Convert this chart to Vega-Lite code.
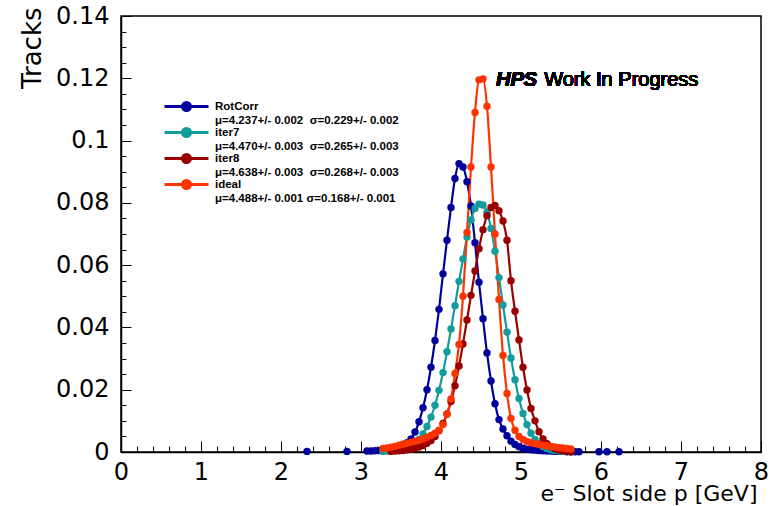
{
  "$schema": "https://vega.github.io/schema/vega-lite/v6.json",
  "width": 640,
  "height": 436,
  "autosize": {"type": "none"},
  "padding": {"left": 121, "top": 16, "right": 16, "bottom": 54},
  "background": "white",
  "config": {
    "view": {"stroke": "black", "strokeWidth": 1.5},
    "axis": {"grid": false, "zindex": 1},
    "style": {"guide-label": {"lineHeight": 14}}
  },
  "resolve": {"axis": {"x": "independent", "y": "independent"}},
  "data": {"values": [
    {"series":"RotCorr","p":2.325,"frac":0.0002},{"series":"RotCorr","p":2.825,"frac":0.0002},{"series":"RotCorr","p":3.075,"frac":0.0003},{"series":"RotCorr","p":3.125,"frac":0.0003},{"series":"RotCorr","p":3.175,"frac":0.0004},{"series":"RotCorr","p":3.225,"frac":0.0005},{"series":"RotCorr","p":3.275,"frac":0.0007},{"series":"RotCorr","p":3.325,"frac":0.0009},{"series":"RotCorr","p":3.375,"frac":0.0012},{"series":"RotCorr","p":3.425,"frac":0.0015},{"series":"RotCorr","p":3.475,"frac":0.0019},{"series":"RotCorr","p":3.525,"frac":0.0024},{"series":"RotCorr","p":3.575,"frac":0.0030},{"series":"RotCorr","p":3.625,"frac":0.0042},{"series":"RotCorr","p":3.675,"frac":0.0064},{"series":"RotCorr","p":3.725,"frac":0.0097},{"series":"RotCorr","p":3.775,"frac":0.0142},{"series":"RotCorr","p":3.825,"frac":0.0200},{"series":"RotCorr","p":3.875,"frac":0.0272},{"series":"RotCorr","p":3.925,"frac":0.0358},{"series":"RotCorr","p":3.975,"frac":0.0458},{"series":"RotCorr","p":4.025,"frac":0.0572},{"series":"RotCorr","p":4.075,"frac":0.0680},{"series":"RotCorr","p":4.125,"frac":0.0785},{"series":"RotCorr","p":4.175,"frac":0.0878},{"series":"RotCorr","p":4.225,"frac":0.0926},{"series":"RotCorr","p":4.275,"frac":0.0915},{"series":"RotCorr","p":4.325,"frac":0.0868},{"series":"RotCorr","p":4.375,"frac":0.0790},{"series":"RotCorr","p":4.425,"frac":0.0672},{"series":"RotCorr","p":4.475,"frac":0.0545},{"series":"RotCorr","p":4.525,"frac":0.0428},{"series":"RotCorr","p":4.575,"frac":0.0318},{"series":"RotCorr","p":4.625,"frac":0.0228},{"series":"RotCorr","p":4.675,"frac":0.0155},{"series":"RotCorr","p":4.725,"frac":0.0104},{"series":"RotCorr","p":4.775,"frac":0.0074},{"series":"RotCorr","p":4.825,"frac":0.0052},{"series":"RotCorr","p":4.875,"frac":0.0035},{"series":"RotCorr","p":4.925,"frac":0.0024},{"series":"RotCorr","p":4.975,"frac":0.0017},{"series":"RotCorr","p":5.025,"frac":0.0012},{"series":"RotCorr","p":5.075,"frac":0.0009},{"series":"RotCorr","p":5.125,"frac":0.0007},{"series":"RotCorr","p":5.175,"frac":0.0006},{"series":"RotCorr","p":5.225,"frac":0.0005},{"series":"RotCorr","p":5.275,"frac":0.0004},{"series":"RotCorr","p":5.325,"frac":0.0003},{"series":"RotCorr","p":5.375,"frac":0.0003},{"series":"RotCorr","p":5.425,"frac":0.0002},{"series":"RotCorr","p":5.475,"frac":0.0002},{"series":"RotCorr","p":5.525,"frac":0.0002},{"series":"RotCorr","p":5.575,"frac":0.0001},{"series":"RotCorr","p":5.625,"frac":0.0001},{"series":"RotCorr","p":5.675,"frac":0.0001},{"series":"RotCorr","p":5.725,"frac":0.0001},{"series":"RotCorr","p":5.975,"frac":0.0001},{"series":"RotCorr","p":6.075,"frac":0.0001},{"series":"RotCorr","p":6.225,"frac":0.0001},
    {"series":"iter7","p":3.275,"frac":0.0002},{"series":"iter7","p":3.325,"frac":0.0003},{"series":"iter7","p":3.375,"frac":0.0004},{"series":"iter7","p":3.425,"frac":0.0005},{"series":"iter7","p":3.475,"frac":0.0007},{"series":"iter7","p":3.525,"frac":0.0009},{"series":"iter7","p":3.575,"frac":0.0012},{"series":"iter7","p":3.625,"frac":0.0018},{"series":"iter7","p":3.675,"frac":0.0027},{"series":"iter7","p":3.725,"frac":0.0040},{"series":"iter7","p":3.775,"frac":0.0058},{"series":"iter7","p":3.825,"frac":0.0082},{"series":"iter7","p":3.875,"frac":0.0112},{"series":"iter7","p":3.925,"frac":0.0150},{"series":"iter7","p":3.975,"frac":0.0198},{"series":"iter7","p":4.025,"frac":0.0255},{"series":"iter7","p":4.075,"frac":0.0322},{"series":"iter7","p":4.125,"frac":0.0395},{"series":"iter7","p":4.175,"frac":0.0470},{"series":"iter7","p":4.225,"frac":0.0548},{"series":"iter7","p":4.275,"frac":0.0620},{"series":"iter7","p":4.325,"frac":0.0690},{"series":"iter7","p":4.375,"frac":0.0745},{"series":"iter7","p":4.425,"frac":0.0782},{"series":"iter7","p":4.475,"frac":0.0796},{"series":"iter7","p":4.525,"frac":0.0793},{"series":"iter7","p":4.575,"frac":0.0770},{"series":"iter7","p":4.625,"frac":0.0718},{"series":"iter7","p":4.675,"frac":0.0645},{"series":"iter7","p":4.725,"frac":0.0560},{"series":"iter7","p":4.775,"frac":0.0472},{"series":"iter7","p":4.825,"frac":0.0385},{"series":"iter7","p":4.875,"frac":0.0302},{"series":"iter7","p":4.925,"frac":0.0232},{"series":"iter7","p":4.975,"frac":0.0172},{"series":"iter7","p":5.025,"frac":0.0124},{"series":"iter7","p":5.075,"frac":0.0088},{"series":"iter7","p":5.125,"frac":0.0060},{"series":"iter7","p":5.175,"frac":0.0040},{"series":"iter7","p":5.225,"frac":0.0026},{"series":"iter7","p":5.275,"frac":0.0017},{"series":"iter7","p":5.325,"frac":0.0011},{"series":"iter7","p":5.375,"frac":0.0007},{"series":"iter7","p":5.425,"frac":0.0005},{"series":"iter7","p":5.475,"frac":0.0003},{"series":"iter7","p":5.525,"frac":0.0002},{"series":"iter7","p":5.575,"frac":0.0002},{"series":"iter7","p":5.625,"frac":0.0001},
    {"series":"iter8","p":3.375,"frac":0.0002},{"series":"iter8","p":3.425,"frac":0.0003},{"series":"iter8","p":3.475,"frac":0.0004},{"series":"iter8","p":3.525,"frac":0.0005},{"series":"iter8","p":3.575,"frac":0.0007},{"series":"iter8","p":3.625,"frac":0.0009},{"series":"iter8","p":3.675,"frac":0.0012},{"series":"iter8","p":3.725,"frac":0.0016},{"series":"iter8","p":3.775,"frac":0.0021},{"series":"iter8","p":3.825,"frac":0.0028},{"series":"iter8","p":3.875,"frac":0.0037},{"series":"iter8","p":3.925,"frac":0.0050},{"series":"iter8","p":3.975,"frac":0.0068},{"series":"iter8","p":4.025,"frac":0.0092},{"series":"iter8","p":4.075,"frac":0.0122},{"series":"iter8","p":4.125,"frac":0.0162},{"series":"iter8","p":4.175,"frac":0.0213},{"series":"iter8","p":4.225,"frac":0.0276},{"series":"iter8","p":4.275,"frac":0.0347},{"series":"iter8","p":4.325,"frac":0.0424},{"series":"iter8","p":4.375,"frac":0.0503},{"series":"iter8","p":4.425,"frac":0.0581},{"series":"iter8","p":4.475,"frac":0.0653},{"series":"iter8","p":4.525,"frac":0.0714},{"series":"iter8","p":4.575,"frac":0.0759},{"series":"iter8","p":4.625,"frac":0.0785},{"series":"iter8","p":4.675,"frac":0.0792},{"series":"iter8","p":4.725,"frac":0.0775},{"series":"iter8","p":4.775,"frac":0.0742},{"series":"iter8","p":4.825,"frac":0.0680},{"series":"iter8","p":4.875,"frac":0.0550},{"series":"iter8","p":4.925,"frac":0.0452},{"series":"iter8","p":4.975,"frac":0.0360},{"series":"iter8","p":5.025,"frac":0.0272},{"series":"iter8","p":5.075,"frac":0.0199},{"series":"iter8","p":5.125,"frac":0.0140},{"series":"iter8","p":5.175,"frac":0.0100},{"series":"iter8","p":5.225,"frac":0.0065},{"series":"iter8","p":5.275,"frac":0.0042},{"series":"iter8","p":5.325,"frac":0.0027},{"series":"iter8","p":5.375,"frac":0.0017},{"series":"iter8","p":5.425,"frac":0.0010},{"series":"iter8","p":5.475,"frac":0.0006},{"series":"iter8","p":5.525,"frac":0.0004},{"series":"iter8","p":5.575,"frac":0.0002},{"series":"iter8","p":5.625,"frac":0.0001},
    {"series":"ideal","p":3.275,"frac":0.0011},{"series":"ideal","p":3.325,"frac":0.0013},{"series":"ideal","p":3.375,"frac":0.0015},{"series":"ideal","p":3.425,"frac":0.0018},{"series":"ideal","p":3.475,"frac":0.0022},{"series":"ideal","p":3.525,"frac":0.0025},{"series":"ideal","p":3.575,"frac":0.0028},{"series":"ideal","p":3.625,"frac":0.0031},{"series":"ideal","p":3.675,"frac":0.0034},{"series":"ideal","p":3.725,"frac":0.0038},{"series":"ideal","p":3.775,"frac":0.0042},{"series":"ideal","p":3.825,"frac":0.0047},{"series":"ideal","p":3.875,"frac":0.0053},{"series":"ideal","p":3.925,"frac":0.0060},{"series":"ideal","p":3.975,"frac":0.0070},{"series":"ideal","p":4.025,"frac":0.0088},{"series":"ideal","p":4.075,"frac":0.0122},{"series":"ideal","p":4.125,"frac":0.0170},{"series":"ideal","p":4.175,"frac":0.0252},{"series":"ideal","p":4.225,"frac":0.0345},{"series":"ideal","p":4.275,"frac":0.0500},{"series":"ideal","p":4.325,"frac":0.0705},{"series":"ideal","p":4.375,"frac":0.0915},{"series":"ideal","p":4.425,"frac":0.1090},{"series":"ideal","p":4.475,"frac":0.1195},{"series":"ideal","p":4.525,"frac":0.1198},{"series":"ideal","p":4.575,"frac":0.1110},{"series":"ideal","p":4.625,"frac":0.0915},{"series":"ideal","p":4.675,"frac":0.0700},{"series":"ideal","p":4.725,"frac":0.0490},{"series":"ideal","p":4.775,"frac":0.0310},{"series":"ideal","p":4.825,"frac":0.0188},{"series":"ideal","p":4.875,"frac":0.0108},{"series":"ideal","p":4.925,"frac":0.0070},{"series":"ideal","p":4.975,"frac":0.0050},{"series":"ideal","p":5.025,"frac":0.0040},{"series":"ideal","p":5.075,"frac":0.0034},{"series":"ideal","p":5.125,"frac":0.0030},{"series":"ideal","p":5.175,"frac":0.0027},{"series":"ideal","p":5.225,"frac":0.0024},{"series":"ideal","p":5.275,"frac":0.0022},{"series":"ideal","p":5.325,"frac":0.0020},{"series":"ideal","p":5.375,"frac":0.0018},{"series":"ideal","p":5.425,"frac":0.0016},{"series":"ideal","p":5.475,"frac":0.0014},{"series":"ideal","p":5.525,"frac":0.0013},{"series":"ideal","p":5.575,"frac":0.0011},{"series":"ideal","p":5.625,"frac":0.0010}
  ]},
  "layer": [
    {
      "transform": [{"filter": "datum.frac >= 0.0005"}],
      "mark": {"type": "line", "strokeWidth": 2.2, "interpolate": "monotone"},
      "encoding": {
        "x": {"field": "p", "type": "quantitative",
          "scale": {"domain": [0, 8], "nice": false, "zero": false},
          "axis": {
            "orient": "bottom",
            "values": [0,1,2,3,4,5,6,7,8],
            "format": "d",
            "ticks": false,
            "domainColor": "black", "domainWidth": 1.5,
            "labelFont": "DejaVu Sans", "labelFontSize": 24, "labelColor": "black",
            "labelPadding": 8, "labelOverlap": false, "labelFlush": false,
            "title": "e\u207b Slot side p [GeV]",
            "titleFont": "DejaVu Sans", "titleFontSize": 22, "titleFontWeight": "normal", "titleColor": "black",
            "titleAnchor": "end", "titleAlign": "right", "titleBaseline": "alphabetic",
            "titleX": 636, "titleY": 48
          }},
        "y": {"field": "frac", "type": "quantitative",
          "scale": {"domain": [0, 0.14], "nice": false, "zero": false},
          "axis": {
            "orient": "left",
            "values": [0,0.02,0.04,0.06,0.08,0.1,0.12,0.14],
            "format": "~g",
            "ticks": false,
            "domainColor": "black", "domainWidth": 1.5,
            "labelFont": "DejaVu Sans", "labelFontSize": 24, "labelColor": "black",
            "labelPadding": 12, "labelOverlap": false, "labelFlush": false,
            "title": "Tracks",
            "titleFont": "DejaVu Sans", "titleFontSize": 26, "titleFontWeight": "normal", "titleColor": "black",
            "titleAnchor": "end", "titleAlign": "right", "titleBaseline": "middle", "titleAngle": -90,
            "titleX": -89, "titleY": -9
          }},
        "color": {"field": "series", "type": "nominal",
          "scale": {"domain": ["RotCorr", "iter7", "iter8", "ideal"], "range": ["#00009a", "#129c9c", "#990000", "#ff3300"]},
          "legend": {
            "title": null, "orient": "none", "legendX": 59, "legendY": 84,
            "padding": 0,
            "symbolType": "M-4.4,0H4.4M-0.8,0A0.8,0.8,0,1,1,0.8,0A0.8,0.8,0,1,1,-0.8,0Z",
            "symbolSize": 100, "symbolStrokeWidth": 3,
            "labelOffset": 22, "rowPadding": -13,
            "labelFont": "Liberation Sans", "labelFontSize": 11.5, "labelFontWeight": "bold", "labelColor": "black",
            "labelLimit": 400,
            "labelExpr": "datum.label == 'RotCorr' ? ['RotCorr', '\u00a0\u00a0\u03bc=4.237+/- 0.002\u00a0\u00a0\u03c3=0.229+/- 0.002'] : datum.label == 'iter7' ? ['iter7', '\u00a0\u00a0\u03bc=4.470+/- 0.003\u00a0\u00a0\u03c3=0.265+/- 0.003'] : datum.label == 'iter8' ? ['iter8', '\u00a0\u00a0\u03bc=4.638+/- 0.003\u00a0\u00a0\u03c3=0.268+/- 0.003'] : ['ideal', '\u00a0\u00a0\u03bc=4.488+/- 0.001 \u03c3=0.168+/- 0.001']"
          }}
      }
    },
    {
      "mark": {"type": "point", "filled": true, "size": 55, "opacity": 1, "strokeWidth": 0},
      "encoding": {
        "x": {"field": "p", "type": "quantitative",
          "axis": {"orient": "top", "offset": -436, "values": [0,1,2,3,4,5,6,7,8], "labels": false, "domain": false, "title": null,
                   "ticks": true, "tickSize": 11, "tickColor": "black", "tickWidth": 1}},
        "y": {"field": "frac", "type": "quantitative",
          "axis": {"orient": "left", "offset": {"expr": "-10"}, "values": [0,0.02,0.04,0.06,0.08,0.1,0.12,0.14], "labels": false, "domain": false, "title": null,
                   "ticks": true, "tickSize": 10, "tickColor": "black", "tickWidth": 1}},
        "color": {"field": "series", "type": "nominal"}
      }
    },
    {
      "mark": {"type": "text", "text": "HPS", "font": "Liberation Sans", "fontSize": 20, "fontWeight": "bold", "fontStyle": "italic", "align": "left", "baseline": "middle", "color": "black"},
      "encoding": {
        "x": {"datum": 4.6875, "type": "quantitative",
          "axis": {"orient": "top", "offset": -436, "values": [0.2,0.4,0.6,0.8,1.2,1.4,1.6,1.8,2.2,2.4,2.6,2.8,3.2,3.4,3.6,3.8,4.2,4.4,4.6,4.8,5.2,5.4,5.6,5.8,6.2,6.4,6.6,6.8,7.2,7.4,7.6,7.8], "labels": false, "domain": false, "title": null,
                   "ticks": true, "tickSize": 6, "tickColor": "black", "tickWidth": 1}},
        "y": {"datum": 0.1195, "type": "quantitative",
          "axis": {"orient": "left", "offset": {"expr": "-5"}, "values": [0.005,0.01,0.015,0.025,0.03,0.035,0.045,0.05,0.055,0.065,0.07,0.075,0.085,0.09,0.095,0.105,0.11,0.115,0.125,0.13,0.135], "labels": false, "domain": false, "title": null,
                   "ticks": true, "tickSize": 5, "tickColor": "black", "tickWidth": 1}}
      }
    },
    {
      "mark": {"type": "text", "text": "Work In Progress", "font": "Liberation Sans", "fontSize": 20, "fontWeight": "normal", "align": "left", "baseline": "middle", "color": "black"},
      "encoding": {"x": {"datum": 5.29, "type": "quantitative", "axis": null}, "y": {"datum": 0.1195, "type": "quantitative", "axis": null}}
    }
  ]
}
